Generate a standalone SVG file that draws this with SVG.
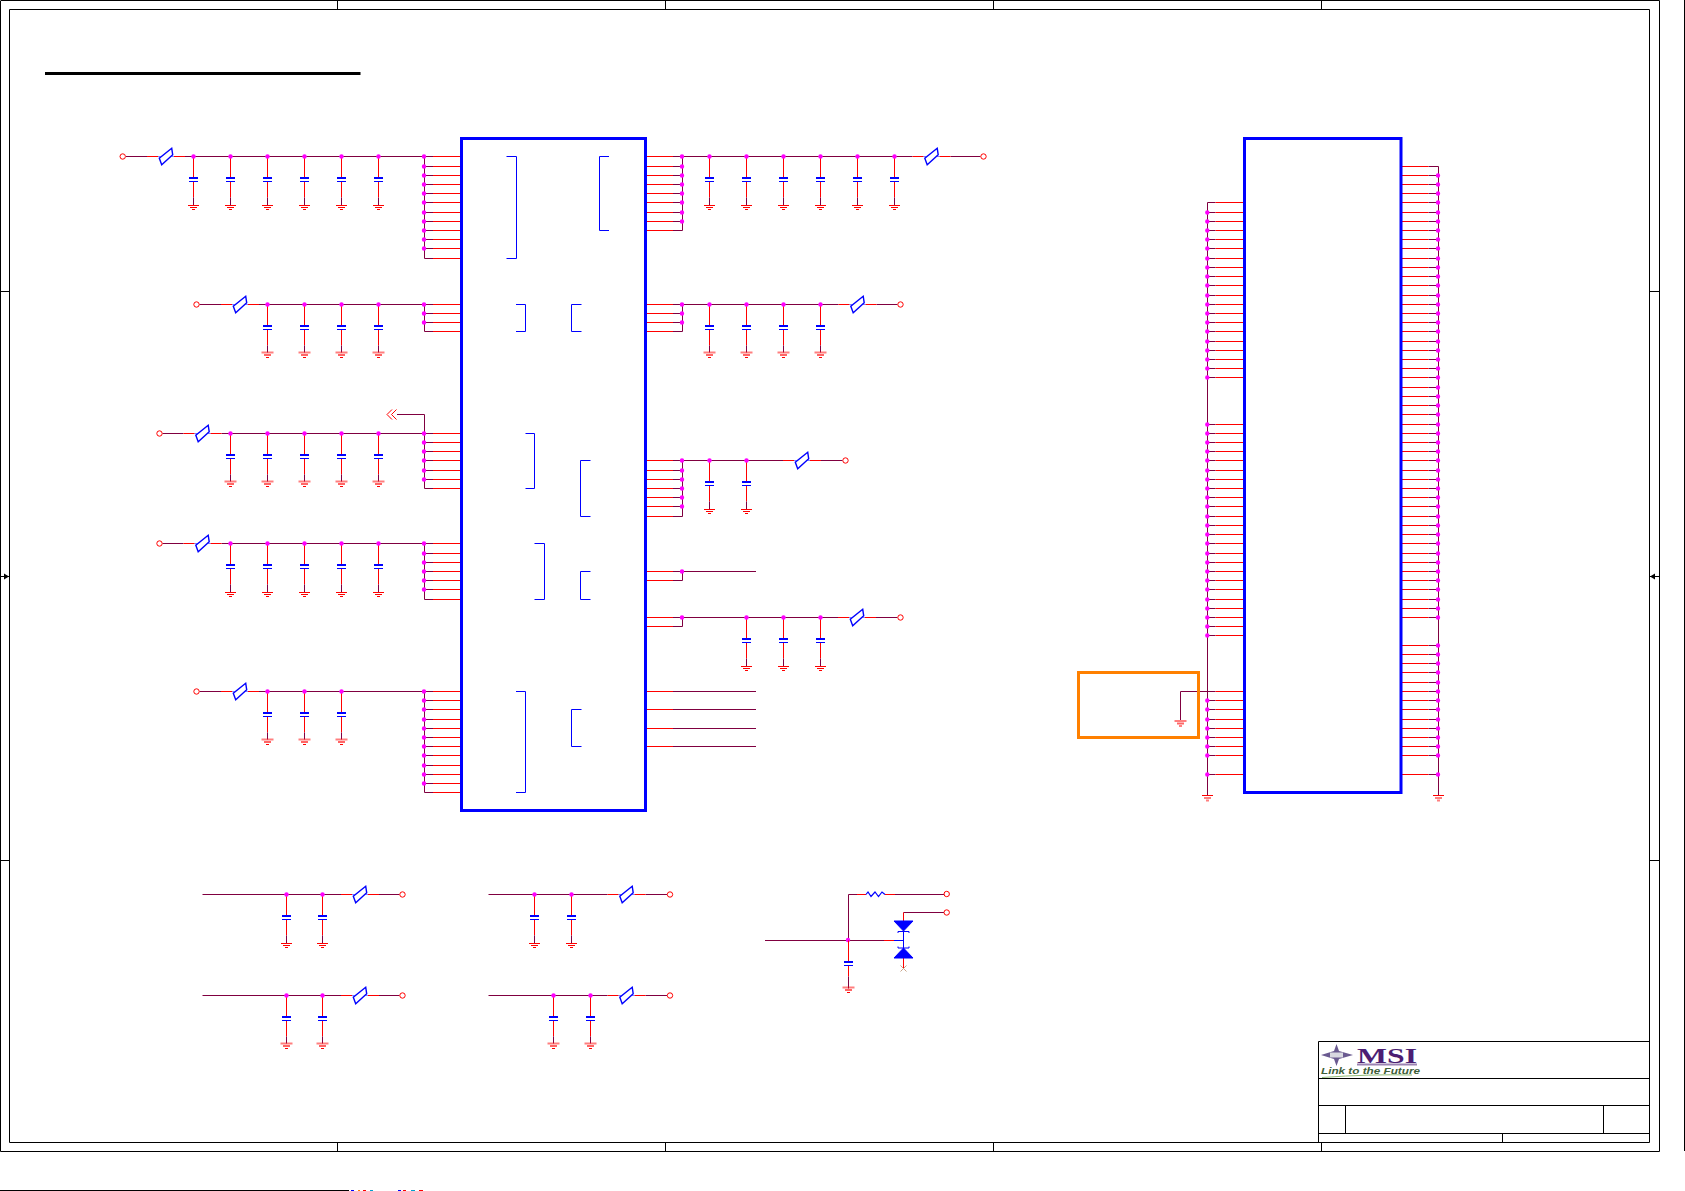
<svg xmlns="http://www.w3.org/2000/svg" xmlns:xlink="http://www.w3.org/1999/xlink" width="1685" height="1191" viewBox="0 0 1685 1191">
<style>
path,line,rect,circle{fill:none}
.w{stroke:#800040;stroke-width:1}
.r{stroke:#ff0000;stroke-width:1}
.b{stroke:#0000ff;stroke-width:1}
.fb{stroke:#0000ff;stroke-width:1.4}
.bt{stroke:#0000ff;stroke-width:2}
.j{stroke:#ff00ff;stroke-width:4.4;stroke-linecap:round}
.k{stroke:#000000;stroke-width:1}
.ic{stroke:#0000ff;stroke-width:3;fill:#ffffff}
.t{stroke:#ff0000;stroke-width:1;fill:#ffffff}
text{font-family:"Liberation Serif",serif}
</style>
<defs>
<g id="gnd"><path class="r" d="M-5.5 0H5.5M-3.5 2H3.5M-1.5 4H1.5"/></g>
<g id="gndf"><path d="M-6 -1H6" stroke="#ff0000" stroke-opacity=".5" stroke-width="2"/><path d="M-3.5 1.5H3.5" stroke="#ff0000" stroke-opacity=".6" stroke-width="2"/><path class="r" d="M-1.5 4H1.5"/></g>
<g id="gndt"><path class="r" d="M-5.5 0H5.5"/><path d="M-3.5 2.5H3.5" stroke="#ff0000" stroke-opacity=".5" stroke-width="2"/><path d="M-1.5 5H1.5" stroke="#ff0000" stroke-opacity=".5" stroke-width="2"/></g>
<g id="cap"><path class="r" d="M0 0V21M0 25.5V41"/><path class="w" d="M0 41V49"/><path class="bt" d="M-4.5 21.5H4.5"/><path class="b" d="M-4.5 25H4.5"/><use href="#gnd" y="49"/><path class="j" d="M0 0h0"/></g>
<g id="capf"><path class="r" d="M0 0V21M0 25.5V41"/><path class="w" d="M0 41V48"/><path class="bt" d="M-4.5 21.5H4.5"/><path class="b" d="M-4.5 25H4.5"/><use href="#gndf" y="49"/><path class="j" d="M0 0h0"/></g>
<g id="fb"><path class="r" d="M-19 0H-8M8 0H19"/><path class="fb" d="M5.7 -8.3L6.7 -1.7L-4.3 8.3L-6.7 1.7Z"/><path d="M-8 0H-5.5M5.5 0H8" stroke="#0000ff" stroke-opacity=".5"/></g>
<g id="term"><circle class="t" r="2.7"/></g>
</defs>
<rect width="1685" height="1191" style="fill:#ffffff"/>
<g id="frame">
<path class="k" d="M0.5 1V1151.5H1659.5V0.5H0.5M9.5 9.5H1649.5V1142.5H9.5Z"/>
<path class="k" d="M337.5 0V9M665.5 0V9M993.5 0V9M1321.5 0V9M337.5 1142V1151M665.5 1142V1151M993.5 1142V1151M1321.5 1142V1151M0 291.5H9M0 860.5H9M1649 291.5H1659M1649 860.5H1659M0 576.5H9M1649 576.5H1659"/>
<path d="M9 576.5L4 573.5V579.5ZM1650 576.5L1655 573.5V579.5Z" style="fill:#000000"/>
<path class="k" d="M0 1190.5H349M1684.5 0V1151"/>
<path d="M351 1190.5h3" stroke="#0000ff"/><path d="M358 1190.5h2" stroke="#ff8000"/><path d="M363 1190.5h3" stroke="#ff0000"/><path d="M370 1190.5h3" stroke="#00a0d0"/><path d="M398 1190.5h3" stroke="#0000ff"/><path d="M403 1190.5h3" stroke="#ff0000"/><path d="M411 1190.5h4" stroke="#00a0d0"/><path d="M419 1190.5h4" stroke="#ff0000"/>
<path d="M45 73.5H360.5" stroke="#000000" stroke-width="3"/>
</g>
<g id="title-block">
<path class="k" d="M1318.5 1041.5H1649M1318.5 1041.5V1142M1318.5 1078.5H1649M1318.5 1105.5H1649M1318.5 1133.5H1649M1345.5 1105.5V1133.5M1603.5 1105.5V1133.5M1502.5 1133.5V1142"/>
</g>
<g id="logo">
<path d="M1336.5 1044L1339 1051L1353 1055L1339 1059L1336.5 1066L1334 1059L1321 1055L1334 1051Z" style="fill:#6a5a90"/>
<rect x="1330" y="1052.5" width="13" height="5" style="fill:#d8d8e0"/>
<text x="1357" y="1062.5" font-size="22" font-weight="700" textLength="60" lengthAdjust="spacingAndGlyphs" style="fill:#4b1e73">MSI</text>
<path d="M1357 1064.5H1417" stroke="#4b1e73" stroke-opacity=".55" stroke-width="2"/>
<text x="1321" y="1074" font-size="9.5" font-style="italic" font-weight="700" textLength="99" lengthAdjust="spacingAndGlyphs" style="fill:#3f5f3a;font-family:'Liberation Sans',sans-serif">Link to the Future</text>
<path d="M1322 1077.5Q1370 1074 1412 1075" stroke="#93bd78" stroke-width="1"/>
</g>
<g id="connectors">
<path class="w" d="M126 156.5H147M185 156.5H424.5M199.5 304.5H221M259 304.5H424.5M162.5 433.5H183.5M221.5 433.5H424.5M162.5 543.5H183.5M221.5 543.5H424.5M199.5 691.5H221M259 691.5H424.5M424.5 156.5V258.5M424.5 304.5V331.5M397 414.5H424.5V488.5M424.5 543.5V599.5M424.5 691.5V792.5"/>
<path class="r" d="M392 409.5L387 414.5L392 419.5M396.5 409.5L391.5 414.5L396.5 419.5"/>
<path class="w" d="M424.5 166.5h8.5M424.5 175.5h8.5M424.5 184.5h8.5M424.5 193.5h8.5M424.5 202.5h8.5M424.5 212.5h8.5M424.5 221.5h8.5M424.5 230.5h8.5M424.5 239.5h8.5M424.5 248.5h8.5M424.5 258.5h8.5M424.5 156.5h8.5M424.5 304.5h8.5M424.5 313.5h8.5M424.5 322.5h8.5M424.5 331.5h8.5M424.5 433.5h8.5M424.5 442.5h8.5M424.5 451.5h8.5M424.5 460.5h8.5M424.5 470.5h8.5M424.5 479.5h8.5M424.5 488.5h8.5M424.5 543.5h8.5M424.5 553.5h8.5M424.5 562.5h8.5M424.5 571.5h8.5M424.5 580.5h8.5M424.5 589.5h8.5M424.5 599.5h8.5M424.5 691.5h8.5M424.5 700.5h8.5M424.5 709.5h8.5M424.5 719.5h8.5M424.5 728.5h8.5M424.5 737.5h8.5M424.5 746.5h8.5M424.5 755.5h8.5M424.5 765.5h8.5M424.5 774.5h8.5M424.5 783.5h8.5M424.5 792.5h8.5"/>
<path class="r" d="M433 156.5h28M433 166.5h28M433 175.5h28M433 184.5h28M433 193.5h28M433 202.5h28M433 212.5h28M433 221.5h28M433 230.5h28M433 239.5h28M433 248.5h28M433 258.5h28M433 304.5h28M433 313.5h28M433 322.5h28M433 331.5h28M433 433.5h28M433 442.5h28M433 451.5h28M433 460.5h28M433 470.5h28M433 479.5h28M433 488.5h28M433 543.5h28M433 553.5h28M433 562.5h28M433 571.5h28M433 580.5h28M433 589.5h28M433 599.5h28M433 691.5h28M433 700.5h28M433 709.5h28M433 719.5h28M433 728.5h28M433 737.5h28M433 746.5h28M433 755.5h28M433 765.5h28M433 774.5h28M433 783.5h28M433 792.5h28"/>
<path class="w" d="M673 156.5H912.5M950.5 156.5H980.5M673 166.5h9.5M673 175.5h9.5M673 184.5h9.5M673 193.5h9.5M673 202.5h9.5M673 212.5h9.5M673 221.5h9.5M673 230.5h9.5M682.5 156.5V230.5M673 304.5H838.5M876.5 304.5H897.5M673 313.5h9.5M673 322.5h9.5M673 331.5h9.5M682.5 304.5V331.5M673 460.5H783M821 460.5H842.5M673 470.5h9.5M673 479.5h9.5M673 488.5h9.5M673 497.5h9.5M673 506.5h9.5M673 516.5h9.5M682.5 460.5V516.5M673 571.5H756M673 580.5h9.5M682.5 571.5V580.5M673 617.5H838M876 617.5H897.5M673 626.5h9.5M682.5 617.5V626.5M673 691.5H756M673 709.5H756M673 728.5H756M673 746.5H756"/>
<path class="r" d="M647 156.5H673M647 166.5H673M647 175.5H673M647 184.5H673M647 193.5H673M647 202.5H673M647 212.5H673M647 221.5H673M647 230.5H673M647 304.5H673M647 313.5H673M647 322.5H673M647 331.5H673M647 460.5H673M647 470.5H673M647 479.5H673M647 488.5H673M647 497.5H673M647 506.5H673M647 516.5H673M647 571.5H673M647 580.5H673M647 617.5H673M647 626.5H673M647 691.5H673M647 709.5H673M647 728.5H673M647 746.5H673"/>
<path class="j" d="M424 156.5h0M424 166.5h0M424 175.5h0M424 184.5h0M424 193.5h0M424 202.5h0M424 212.5h0M424 221.5h0M424 230.5h0M424 239.5h0M424 248.5h0M424 304.5h0M424 313.5h0M424 322.5h0M424 433.5h0M424 442.5h0M424 451.5h0M424 460.5h0M424 470.5h0M424 479.5h0M424 543.5h0M424 553.5h0M424 562.5h0M424 571.5h0M424 580.5h0M424 589.5h0M424 691.5h0M424 700.5h0M424 709.5h0M424 719.5h0M424 728.5h0M424 737.5h0M424 746.5h0M424 755.5h0M424 765.5h0M424 774.5h0M424 783.5h0M682 156.5h0M682 166.5h0M682 175.5h0M682 184.5h0M682 193.5h0M682 202.5h0M682 212.5h0M682 221.5h0M682 304.5h0M682 313.5h0M682 322.5h0M682 460.5h0M682 470.5h0M682 479.5h0M682 488.5h0M682 497.5h0M682 506.5h0M682 571.5h0M682 617.5h0"/>
<path class="w" d="M1207.5 202.5V795M1207.5 202.5H1215.5M1207.5 212.5h8M1207.5 221.5h8M1207.5 230.5h8M1207.5 239.5h8M1207.5 248.5h8M1207.5 258.5h8M1207.5 267.5h8M1207.5 276.5h8M1207.5 285.5h8M1207.5 295.5h8M1207.5 304.5h8M1207.5 313.5h8M1207.5 322.5h8M1207.5 331.5h8M1207.5 341.5h8M1207.5 350.5h8M1207.5 359.5h8M1207.5 368.5h8M1207.5 377.5h8M1207.5 424.5h8M1207.5 433.5h8M1207.5 442.5h8M1207.5 451.5h8M1207.5 460.5h8M1207.5 470.5h8M1207.5 479.5h8M1207.5 488.5h8M1207.5 497.5h8M1207.5 506.5h8M1207.5 516.5h8M1207.5 525.5h8M1207.5 534.5h8M1207.5 543.5h8M1207.5 553.5h8M1207.5 562.5h8M1207.5 571.5h8M1207.5 580.5h8M1207.5 589.5h8M1207.5 599.5h8M1207.5 608.5h8M1207.5 617.5h8M1207.5 626.5h8M1207.5 635.5h8M1180.5 720V691.5H1215.5M1207.5 700.5h8M1207.5 709.5h8M1207.5 719.5h8M1207.5 728.5h8M1207.5 737.5h8M1207.5 746.5h8M1207.5 755.5h8M1207.5 774.5h8"/>
<path class="r" d="M1215.5 202.5H1244M1215.5 212.5H1244M1215.5 221.5H1244M1215.5 230.5H1244M1215.5 239.5H1244M1215.5 248.5H1244M1215.5 258.5H1244M1215.5 267.5H1244M1215.5 276.5H1244M1215.5 285.5H1244M1215.5 295.5H1244M1215.5 304.5H1244M1215.5 313.5H1244M1215.5 322.5H1244M1215.5 331.5H1244M1215.5 341.5H1244M1215.5 350.5H1244M1215.5 359.5H1244M1215.5 368.5H1244M1215.5 377.5H1244M1215.5 424.5H1244M1215.5 433.5H1244M1215.5 442.5H1244M1215.5 451.5H1244M1215.5 460.5H1244M1215.5 470.5H1244M1215.5 479.5H1244M1215.5 488.5H1244M1215.5 497.5H1244M1215.5 506.5H1244M1215.5 516.5H1244M1215.5 525.5H1244M1215.5 534.5H1244M1215.5 543.5H1244M1215.5 553.5H1244M1215.5 562.5H1244M1215.5 571.5H1244M1215.5 580.5H1244M1215.5 589.5H1244M1215.5 599.5H1244M1215.5 608.5H1244M1215.5 617.5H1244M1215.5 626.5H1244M1215.5 635.5H1244M1215.5 691.5H1244M1215.5 700.5H1244M1215.5 709.5H1244M1215.5 719.5H1244M1215.5 728.5H1244M1215.5 737.5H1244M1215.5 746.5H1244M1215.5 755.5H1244M1215.5 774.5H1244"/>
<path class="w" d="M1438.5 166.5V795M1428.5 166.5H1438.5M1428.5 175.5h10M1428.5 184.5h10M1428.5 193.5h10M1428.5 202.5h10M1428.5 212.5h10M1428.5 221.5h10M1428.5 230.5h10M1428.5 239.5h10M1428.5 248.5h10M1428.5 258.5h10M1428.5 267.5h10M1428.5 276.5h10M1428.5 285.5h10M1428.5 295.5h10M1428.5 304.5h10M1428.5 313.5h10M1428.5 322.5h10M1428.5 331.5h10M1428.5 341.5h10M1428.5 350.5h10M1428.5 359.5h10M1428.5 368.5h10M1428.5 377.5h10M1428.5 387.5h10M1428.5 396.5h10M1428.5 405.5h10M1428.5 414.5h10M1428.5 424.5h10M1428.5 433.5h10M1428.5 442.5h10M1428.5 451.5h10M1428.5 460.5h10M1428.5 470.5h10M1428.5 479.5h10M1428.5 488.5h10M1428.5 497.5h10M1428.5 506.5h10M1428.5 516.5h10M1428.5 525.5h10M1428.5 534.5h10M1428.5 543.5h10M1428.5 553.5h10M1428.5 562.5h10M1428.5 571.5h10M1428.5 580.5h10M1428.5 589.5h10M1428.5 599.5h10M1428.5 608.5h10M1428.5 617.5h10M1428.5 645.5h10M1428.5 654.5h10M1428.5 663.5h10M1428.5 672.5h10M1428.5 682.5h10M1428.5 691.5h10M1428.5 700.5h10M1428.5 709.5h10M1428.5 719.5h10M1428.5 728.5h10M1428.5 737.5h10M1428.5 746.5h10M1428.5 755.5h10M1428.5 774.5h10"/>
<path class="r" d="M1402 166.5H1428.5M1402 175.5H1428.5M1402 184.5H1428.5M1402 193.5H1428.5M1402 202.5H1428.5M1402 212.5H1428.5M1402 221.5H1428.5M1402 230.5H1428.5M1402 239.5H1428.5M1402 248.5H1428.5M1402 258.5H1428.5M1402 267.5H1428.5M1402 276.5H1428.5M1402 285.5H1428.5M1402 295.5H1428.5M1402 304.5H1428.5M1402 313.5H1428.5M1402 322.5H1428.5M1402 331.5H1428.5M1402 341.5H1428.5M1402 350.5H1428.5M1402 359.5H1428.5M1402 368.5H1428.5M1402 377.5H1428.5M1402 387.5H1428.5M1402 396.5H1428.5M1402 405.5H1428.5M1402 414.5H1428.5M1402 424.5H1428.5M1402 433.5H1428.5M1402 442.5H1428.5M1402 451.5H1428.5M1402 460.5H1428.5M1402 470.5H1428.5M1402 479.5H1428.5M1402 488.5H1428.5M1402 497.5H1428.5M1402 506.5H1428.5M1402 516.5H1428.5M1402 525.5H1428.5M1402 534.5H1428.5M1402 543.5H1428.5M1402 553.5H1428.5M1402 562.5H1428.5M1402 571.5H1428.5M1402 580.5H1428.5M1402 589.5H1428.5M1402 599.5H1428.5M1402 608.5H1428.5M1402 617.5H1428.5M1402 645.5H1428.5M1402 654.5H1428.5M1402 663.5H1428.5M1402 672.5H1428.5M1402 682.5H1428.5M1402 691.5H1428.5M1402 700.5H1428.5M1402 709.5H1428.5M1402 719.5H1428.5M1402 728.5H1428.5M1402 737.5H1428.5M1402 746.5H1428.5M1402 755.5H1428.5M1402 774.5H1428.5"/>
<path class="j" d="M1207.3 212.5h0M1207.3 221.5h0M1207.3 230.5h0M1207.3 239.5h0M1207.3 248.5h0M1207.3 258.5h0M1207.3 267.5h0M1207.3 276.5h0M1207.3 285.5h0M1207.3 295.5h0M1207.3 304.5h0M1207.3 313.5h0M1207.3 322.5h0M1207.3 331.5h0M1207.3 341.5h0M1207.3 350.5h0M1207.3 359.5h0M1207.3 368.5h0M1207.3 377.5h0M1207.3 424.5h0M1207.3 433.5h0M1207.3 442.5h0M1207.3 451.5h0M1207.3 460.5h0M1207.3 470.5h0M1207.3 479.5h0M1207.3 488.5h0M1207.3 497.5h0M1207.3 506.5h0M1207.3 516.5h0M1207.3 525.5h0M1207.3 534.5h0M1207.3 543.5h0M1207.3 553.5h0M1207.3 562.5h0M1207.3 571.5h0M1207.3 580.5h0M1207.3 589.5h0M1207.3 599.5h0M1207.3 608.5h0M1207.3 617.5h0M1207.3 626.5h0M1207.3 635.5h0M1207.3 700.5h0M1207.3 709.5h0M1207.3 719.5h0M1207.3 728.5h0M1207.3 737.5h0M1207.3 746.5h0M1207.3 755.5h0M1207.3 774.5h0M1438 175.5h0M1438 184.5h0M1438 193.5h0M1438 202.5h0M1438 212.5h0M1438 221.5h0M1438 230.5h0M1438 239.5h0M1438 248.5h0M1438 258.5h0M1438 267.5h0M1438 276.5h0M1438 285.5h0M1438 295.5h0M1438 304.5h0M1438 313.5h0M1438 322.5h0M1438 331.5h0M1438 341.5h0M1438 350.5h0M1438 359.5h0M1438 368.5h0M1438 377.5h0M1438 387.5h0M1438 396.5h0M1438 405.5h0M1438 414.5h0M1438 424.5h0M1438 433.5h0M1438 442.5h0M1438 451.5h0M1438 460.5h0M1438 470.5h0M1438 479.5h0M1438 488.5h0M1438 497.5h0M1438 506.5h0M1438 516.5h0M1438 525.5h0M1438 534.5h0M1438 543.5h0M1438 553.5h0M1438 562.5h0M1438 571.5h0M1438 580.5h0M1438 589.5h0M1438 599.5h0M1438 608.5h0M1438 617.5h0M1438 645.5h0M1438 654.5h0M1438 663.5h0M1438 672.5h0M1438 682.5h0M1438 691.5h0M1438 700.5h0M1438 709.5h0M1438 719.5h0M1438 728.5h0M1438 737.5h0M1438 746.5h0M1438 755.5h0M1438 774.5h0"/>
<path class="w" d="M202.5 894.5H341M379 894.5H399.5M202.5 995.5H341M379 995.5H399.5M488.5 894.5H607.5M645.5 894.5H667M488.5 995.5H607.5M645.5 995.5H667"/>
<path class="w" d="M895 894.5H944M848.5 894.5H857M848.5 894.5V940.5M765 940.5H884M903.5 912.5H944"/>
<path class="r" d="M857 894.5H866M885 894.5H895M884 940.5H894M903.5 912.5V921M903.5 958V968"/>
<path class="b" d="M894 940.5H903.5M903.5 931V949"/>
<path class="j" d="M848 940h0"/>
</g>
<g id="U1"><rect class="ic" x="461.5" y="138.5" width="184" height="672"/>
<path class="b" d="M506.5 156.5H516.5V258.5H506.5M609 156.5H599.5V230.5H609M516 304.5H525.5V331.5H516M581.5 304.5H571.5V331.5H581.5M525.5 433.5H534.5V488.5H525.5M590.5 460.5H580.5V516.5H590.5M534.5 543.5H544.5V599.5H534.5M590.5 571.5H580.5V599.5H590.5M516 691.5H525.5V792.5H516M581.5 709.5H571.5V746.5H581.5"/></g>
<g id="U2"><rect class="ic" x="1244.5" y="138.5" width="156.5" height="654"/></g>
<g id="box"><rect x="1078.5" y="672.5" width="120" height="65" stroke="#ff8000" stroke-width="3"/><use href="#gndf" x="1180.5" y="722"/></g>
<g id="GND1"><use href="#gndt" x="1207.5" y="795.5"/></g>
<g id="GND2"><use href="#gndt" x="1438.5" y="795.5"/></g>
<g id="C1" transform="translate(193.5 156.5)"><use href="#cap"/></g>
<g id="C2" transform="translate(230.5 156.5)"><use href="#cap"/></g>
<g id="C3" transform="translate(267.5 156.5)"><use href="#cap"/></g>
<g id="C4" transform="translate(304.5 156.5)"><use href="#cap"/></g>
<g id="C5" transform="translate(341.5 156.5)"><use href="#cap"/></g>
<g id="C6" transform="translate(378.5 156.5)"><use href="#cap"/></g>
<g id="C7" transform="translate(267.5 304.5)"><use href="#capf"/></g>
<g id="C8" transform="translate(304.5 304.5)"><use href="#capf"/></g>
<g id="C9" transform="translate(341.5 304.5)"><use href="#capf"/></g>
<g id="C10" transform="translate(378.5 304.5)"><use href="#capf"/></g>
<g id="C11" transform="translate(230.5 433.5)"><use href="#capf"/></g>
<g id="C12" transform="translate(267.5 433.5)"><use href="#capf"/></g>
<g id="C13" transform="translate(304.5 433.5)"><use href="#capf"/></g>
<g id="C14" transform="translate(341.5 433.5)"><use href="#capf"/></g>
<g id="C15" transform="translate(378.5 433.5)"><use href="#capf"/></g>
<g id="C16" transform="translate(230.5 543.5)"><use href="#cap"/></g>
<g id="C17" transform="translate(267.5 543.5)"><use href="#cap"/></g>
<g id="C18" transform="translate(304.5 543.5)"><use href="#cap"/></g>
<g id="C19" transform="translate(341.5 543.5)"><use href="#cap"/></g>
<g id="C20" transform="translate(378.5 543.5)"><use href="#cap"/></g>
<g id="C21" transform="translate(267.5 691.5)"><use href="#capf"/></g>
<g id="C22" transform="translate(304.5 691.5)"><use href="#capf"/></g>
<g id="C23" transform="translate(341.5 691.5)"><use href="#capf"/></g>
<g id="C24" transform="translate(709.5 156.5)"><use href="#cap"/></g>
<g id="C25" transform="translate(746.5 156.5)"><use href="#cap"/></g>
<g id="C26" transform="translate(783.5 156.5)"><use href="#cap"/></g>
<g id="C27" transform="translate(820.5 156.5)"><use href="#cap"/></g>
<g id="C28" transform="translate(857.5 156.5)"><use href="#cap"/></g>
<g id="C29" transform="translate(894.5 156.5)"><use href="#cap"/></g>
<g id="C30" transform="translate(709.5 304.5)"><use href="#capf"/></g>
<g id="C31" transform="translate(746.5 304.5)"><use href="#capf"/></g>
<g id="C32" transform="translate(783.5 304.5)"><use href="#capf"/></g>
<g id="C33" transform="translate(820.5 304.5)"><use href="#capf"/></g>
<g id="C34" transform="translate(709.5 460.5)"><use href="#cap"/></g>
<g id="C35" transform="translate(746.5 460.5)"><use href="#cap"/></g>
<g id="C36" transform="translate(746.5 617.5)"><use href="#cap"/></g>
<g id="C37" transform="translate(783.5 617.5)"><use href="#cap"/></g>
<g id="C38" transform="translate(820.5 617.5)"><use href="#cap"/></g>
<g id="C39" transform="translate(286.5 894.5)"><use href="#cap"/></g>
<g id="C40" transform="translate(322.5 894.5)"><use href="#cap"/></g>
<g id="C41" transform="translate(286.5 995.5)"><use href="#capf"/></g>
<g id="C42" transform="translate(322.5 995.5)"><use href="#capf"/></g>
<g id="C43" transform="translate(534.5 894.5)"><use href="#cap"/></g>
<g id="C44" transform="translate(571.5 894.5)"><use href="#cap"/></g>
<g id="C45" transform="translate(553.5 995.5)"><use href="#capf"/></g>
<g id="C46" transform="translate(590.5 995.5)"><use href="#capf"/></g>
<g id="C47" transform="translate(848.5 940.5)"><path class="r" d="M0 0V21M0 25.5V36"/><path class="w" d="M0 36V48"/><path class="bt" d="M-4.5 21.5H4.5"/><path class="b" d="M-4.5 25H4.5"/><use href="#gndf" y="48"/></g>
<g id="FB1" transform="translate(166 156.5)"><use href="#fb"/></g>
<g id="FB2" transform="translate(240 304.5)"><use href="#fb"/></g>
<g id="FB3" transform="translate(202.5 433.5)"><use href="#fb"/></g>
<g id="FB4" transform="translate(202.5 543.5)"><use href="#fb"/></g>
<g id="FB5" transform="translate(240 691.5)"><use href="#fb"/></g>
<g id="FB6" transform="translate(931.5 156.5)"><use href="#fb"/></g>
<g id="FB7" transform="translate(857.5 304.5)"><use href="#fb"/></g>
<g id="FB8" transform="translate(802 460.5)"><use href="#fb"/></g>
<g id="FB9" transform="translate(857 617.5)"><use href="#fb"/></g>
<g id="FB10" transform="translate(360 894.5)"><use href="#fb"/></g>
<g id="FB11" transform="translate(360 995.5)"><use href="#fb"/></g>
<g id="FB12" transform="translate(626.5 894.5)"><use href="#fb"/></g>
<g id="FB13" transform="translate(626.5 995.5)"><use href="#fb"/></g>
<g id="T1" transform="translate(122.7 156.5)"><use href="#term"/></g>
<g id="T2" transform="translate(196.5 304.5)"><use href="#term"/></g>
<g id="T3" transform="translate(159.5 433.5)"><use href="#term"/></g>
<g id="T4" transform="translate(159.5 543.5)"><use href="#term"/></g>
<g id="T5" transform="translate(196.5 691.5)"><use href="#term"/></g>
<g id="T6" transform="translate(983.5 156.5)"><use href="#term"/></g>
<g id="T7" transform="translate(900.5 304.5)"><use href="#term"/></g>
<g id="T8" transform="translate(845.5 460.5)"><use href="#term"/></g>
<g id="T9" transform="translate(900.5 617.5)"><use href="#term"/></g>
<g id="T10" transform="translate(402.5 894.5)"><use href="#term"/></g>
<g id="T11" transform="translate(402.5 995.5)"><use href="#term"/></g>
<g id="T12" transform="translate(670 894.5)"><use href="#term"/></g>
<g id="T13" transform="translate(670 995.5)"><use href="#term"/></g>
<g id="T14" transform="translate(946.7 894)"><use href="#term"/></g>
<g id="T15" transform="translate(946.7 912.5)"><use href="#term"/></g>
<g id="R1"><path d="M866 894.5L868 892L871 896.5L875 892L878.5 896.5L882 892L885 894.5" stroke="#0000ff" stroke-width="1.2"/></g>
<g id="D1"><path d="M894 921H913L903.5 931Z" stroke="#0000ff" style="fill:#0000ff"/><path class="b" d="M898 933V931.5H909V933"/></g>
<g id="D2"><path d="M894 958H913L903.5 948Z" stroke="#0000ff" style="fill:#0000ff"/><path class="b" d="M898 946.5V948H909V946.5"/></g>
<g id="NC"><path d="M900.5 965.5L906.5 971.5M906.5 965.5L900.5 971.5" stroke="#c9a58a"/></g>
</svg>
